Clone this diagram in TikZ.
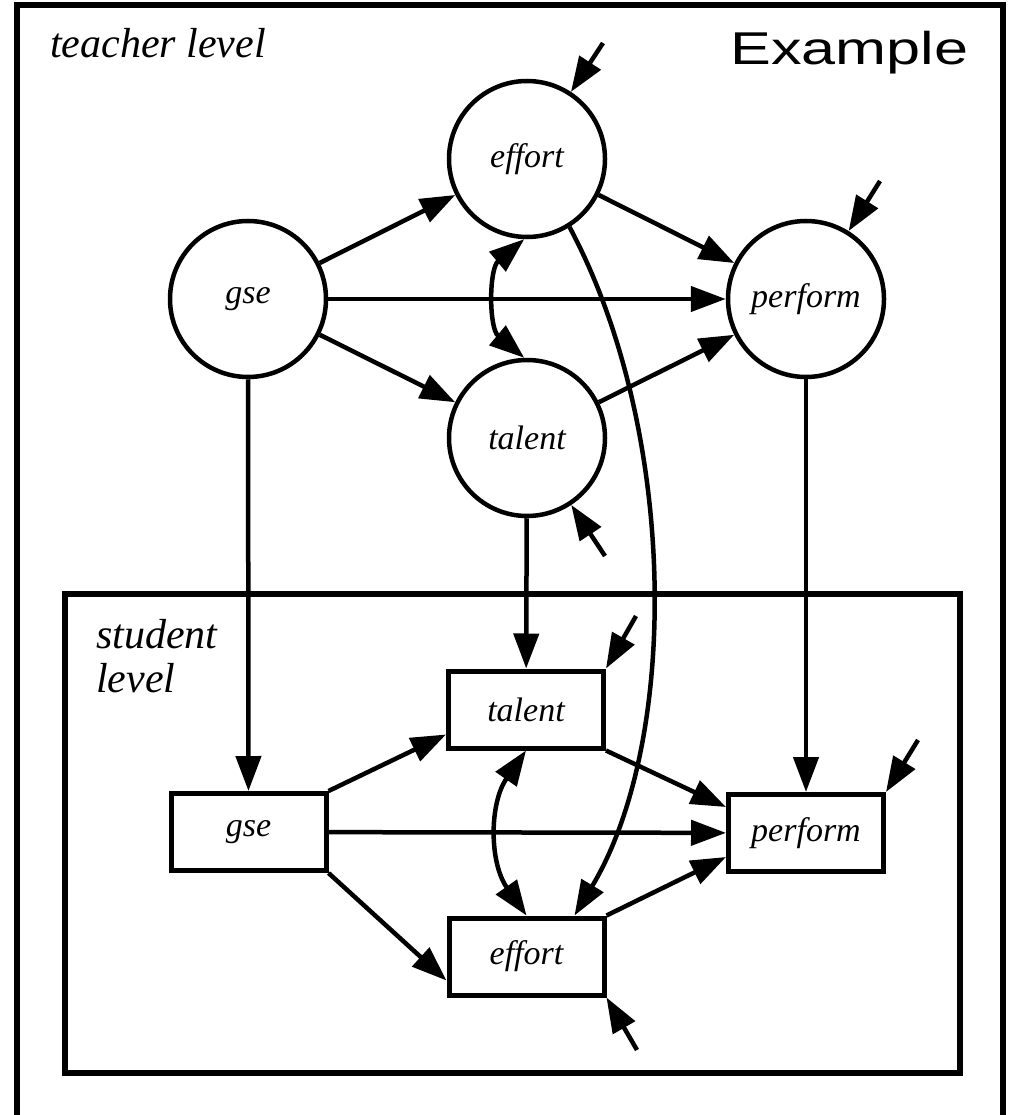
\documentclass[tikz,border=0pt]{standalone}
\usepackage{fontspec}
\setmainfont{Liberation Serif}
\newfontfamily\labfont{Liberation Serif Italic}
\newfontfamily\exfont{Liberation Sans}
\usetikzlibrary{arrows.meta,calc}
\begin{document}
\begin{tikzpicture}[x=1pt,y=-1pt,
  circ/.style={circle,draw,line width=4.5pt,minimum size=156pt,inner sep=0pt,
    font=\labfont\fontsize{34}{40}\selectfont},
  box/.style={rectangle,draw,line width=5pt,minimum width=155pt,minimum height=77pt,inner sep=0pt,
    font=\labfont\fontsize{34}{40}\selectfont},
  tip/.tip={Triangle[length=35pt,width=25pt]},
  arr/.style={line width=4.5pt,-tip},
  darr/.style={line width=4.5pt,tip-tip},
  lbl/.style={font=\labfont\fontsize{42}{46}\selectfont,inner sep=0pt,anchor=base west},
  frame/.style={line width=5.5pt,line join=miter}]
\useasboundingbox (0,0) rectangle (1012,1115);
% frames
\draw[frame] (17,1120) -- (17,5) -- (1003,5) -- (1003,1120);
\draw[frame] (65,594) rectangle (960,1073);
% labels
\node[lbl] (tl) at (50,58) {teacher level};
\node[lbl] (sl1) at (96,648) {student};
\node[lbl] (sl2) at (96,692) {level};
\node[inner sep=0pt,anchor=base west,font=\exfont\fontsize{46}{50}\selectfont] (ex) at (730,65) {\scalebox{1.33}[1]{Example}};
% teacher level nodes
\node[circ] (gc) at (248,299) {gse};
\node[circ] (ec) at (527,159) {effort};
\node[circ] (pc) at (806,299) {perform};
\node[circ] (tc) at (527,438) {talent};
% student level nodes
\node[box] (tb) at (526,709.5) {talent};
\node[box] (gb) at (248.5,832) {gse};
\node[box] (pb) at (806,833) {perform};
\node[box] (eb) at (526.5,956.5) {effort};
% error sources
\coordinate (e1) at (603,43);
\coordinate (e2) at (880,181);
\coordinate (e3) at (605,556);
\coordinate (e4) at (636,616);
\coordinate (e5) at (918,740);
\coordinate (e6) at (637,1050);
% teacher level paths
\draw[arr] (gc) -- (ec);
\draw[arr] (gc) -- (pc);
\draw[arr] (gc) -- (tc);
\draw[arr] (ec) -- (pc);
\draw[arr] (tc) -- (pc);
\draw[darr] (ec.268) to[bend right=50] (tc.92);
\draw[arr] (e1) -- (ec);
\draw[arr] (e2) -- (pc);
\draw[arr] (e3) -- (tc);
% cross-level paths
\draw[arr] (gc) -- (gb);
\draw[arr] (tc) -- (tb);
\draw[arr] (pc) -- (pb);
\draw[arr] (ec.-58) .. controls (678,430) and (680,740) .. ([xshift=48pt]eb.north);
% student level paths
\draw[arr] (gb.north east) -- ([yshift=-25pt]tb.west);
\draw[arr] (gb) -- (pb);
\draw[arr] (gb.south east) -- ([yshift=-24pt]eb.west);
\draw[arr] (tb.south east) -- ([yshift=26pt]pb.west);
\draw[arr] (eb.north east) -- ([yshift=-24pt]pb.west);
\draw[darr] (tb.south) to[bend right=35] (eb.north);
\draw[arr] (e4) -- (tb.north east);
\draw[arr] (e5) -- (pb.north east);
\draw[arr] (e6) -- (eb.south east);
\end{tikzpicture}
\end{document}
